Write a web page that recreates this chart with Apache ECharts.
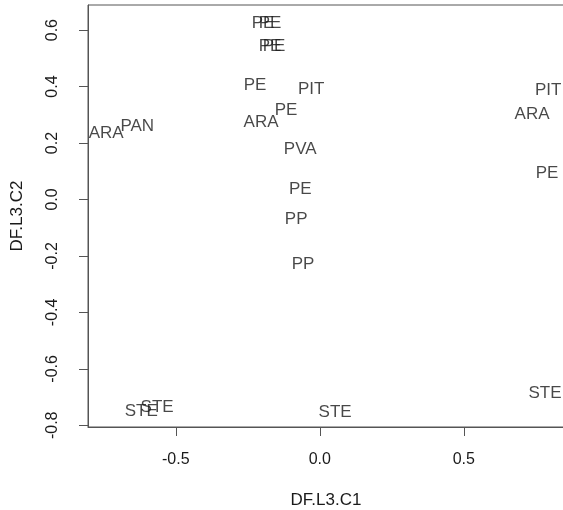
<!DOCTYPE html>
<html>
<head>
<meta charset="utf-8">
<script src="https://cdn.jsdelivr.net/npm/echarts@6/dist/echarts.min.js"></script>
<style>html,body{margin:0;padding:0;background:#fff;}#c{width:563px;height:510px;}</style>
</head>
<body>
<div id="c"></div>
<script>
const labels = ['PE','PE','PE','PE','ARA','PAN','PE','PIT','PE','ARA','PVA','PE','PP','PP','PIT','ARA','PE','STE','STE','STE','STE'];
const xVals  = [-0.197,-0.173,-0.173,-0.159,-0.742,-0.634,-0.225,-0.030,-0.117,-0.204,-0.068,-0.068,-0.082,-0.058,0.793,0.737,0.789,-0.620,-0.565,0.053,0.782];
const yVals  = [0.625,0.625,0.544,0.544,0.233,0.261,0.403,0.389,0.315,0.272,0.177,0.035,-0.071,-0.230,0.385,0.300,0.092,-0.749,-0.735,-0.753,-0.686];
const xTicks = [-0.5, 0.0, 0.5];
const yTicks = [-0.8, -0.6, -0.4, -0.2, 0.0, 0.2, 0.4, 0.6];
const xTitle = 'DF.L3.C1';
const yTitle = 'DF.L3.C2';

const data = labels.map((l, i) => ({ value: [xVals[i], yVals[i]], name: l }));
const font = 'Liberation Sans, Arial, sans-serif';
const chart = echarts.init(document.getElementById('c'), null, { renderer: 'canvas' });
chart.setOption({
  animation: false,
  grid: { left: 88, top: 5, width: 476, height: 422, outerBoundsMode: 'none', containLabel: false, show: true, borderColor: '#555', borderWidth: 1, backgroundColor: 'transparent' },
  xAxis: {
    type: 'value', min: -0.805, max: 0.848,
    name: xTitle, nameLocation: 'middle', nameGap: 65,
    nameTextStyle: { color: '#1a1a1a', fontSize: 17, fontFamily: font },
    axisLine: { show: true, onZero: false, lineStyle: { color: '#555' } },
    splitLine: { show: false },
    axisTick: { show: true, length: 9, customValues: xTicks, lineStyle: { color: '#555' } },
    axisLabel: { customValues: xTicks, color: '#1a1a1a', fontSize: 16, fontFamily: font, margin: 25, formatter: v => v.toFixed(1) }
  },
  yAxis: {
    type: 'value', min: -0.806, max: 0.689,
    name: yTitle, nameLocation: 'middle', nameGap: 62, nameRotate: 90,
    nameTextStyle: { color: '#1a1a1a', fontSize: 17, fontFamily: font },
    axisLine: { show: true, onZero: false, lineStyle: { color: '#555' } },
    splitLine: { show: false },
    axisTick: { show: true, length: 9, customValues: yTicks, lineStyle: { color: '#555' } },
    axisLabel: { customValues: yTicks, rotate: 90, color: '#1a1a1a', fontSize: 16, fontFamily: font, margin: 27, formatter: v => v.toFixed(1) }
  },
  series: [{
    type: 'scatter', symbolSize: 0, data: data,
    label: { show: true, position: 'inside', formatter: p => p.name, color: '#1a1a1a', fontSize: 17, fontFamily: font },
    emphasis: { disabled: true }
  }]
});
</script>
</body>
</html>
